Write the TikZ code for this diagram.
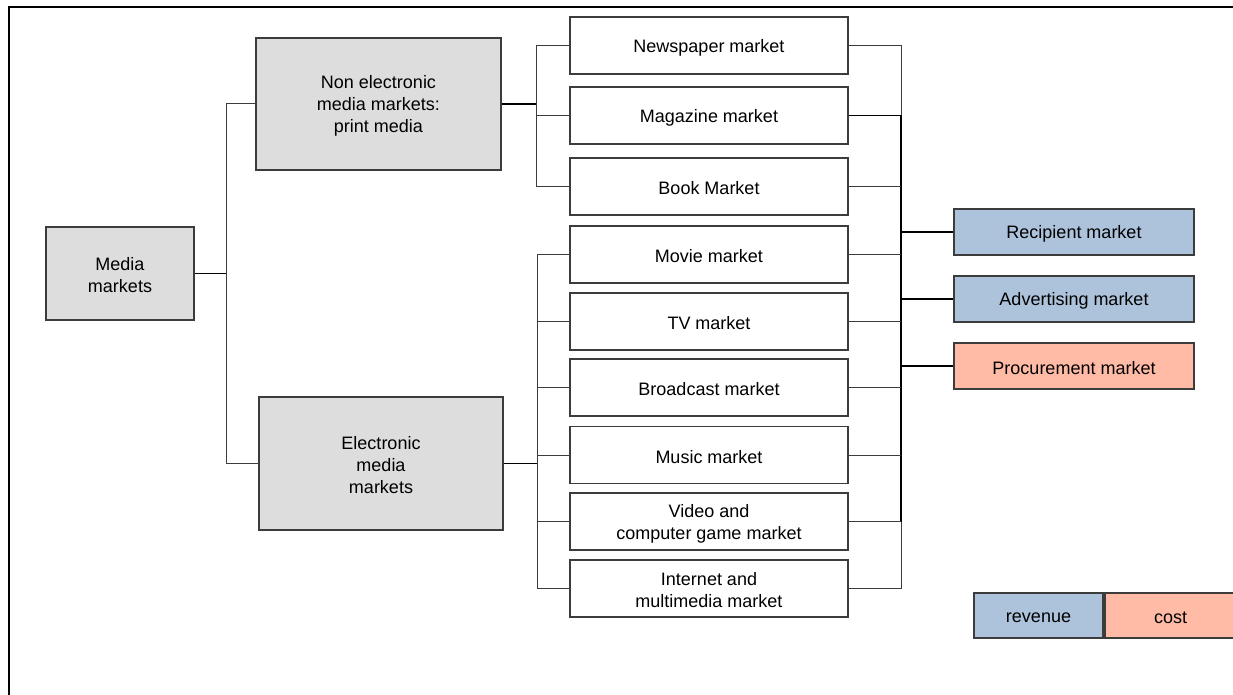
\documentclass[tikz,border=0pt]{standalone}
\usepackage{fontspec}
\setmainfont{Liberation Sans}
\definecolor{boxgrey}{RGB}{221,221,221}
\definecolor{revblue}{RGB}{173,194,219}
\definecolor{costred}{RGB}{255,187,165}
\definecolor{edge}{RGB}{60,60,60}
\begin{document}
\begin{tikzpicture}[x=1pt,y=-1pt,
  every node/.style={inner sep=0pt},
  txt/.style={label={[font=\fontsize{18}{22}\selectfont, align=center, inner sep=0pt, yshift=-2pt]center:{#1}}},
  basebox/.style={draw=edge, line width=1.2pt, rectangle},
  groupbox/.style={basebox, fill=boxgrey},
  marketbox/.style={basebox, fill=white, minimum width=278pt, minimum height=57pt},
  sidebox/.style={basebox, minimum width=240pt, minimum height=46pt},
  link/.style={draw=edge, line width=1pt},
  mainlink/.style={draw=black, line width=1.8pt}]
\useasboundingbox (0,0) rectangle (1233,695);
\fill[white] (0,0) rectangle (1233,695);
% outer frame
\draw[line width=2pt] (9,700) -- (9,7) -- (1240,7);

% tree levels
\node[groupbox, minimum width=148pt, minimum height=93pt, txt={Media\\markets}] (media) at (120,273.5) {};
\node[groupbox, minimum width=245pt, minimum height=132pt, txt={Non electronic\\media markets:\\print media}] (print) at (378.5,104) {};
\node[groupbox, minimum width=244pt, minimum height=133pt, txt={Electronic\\media\\markets}] (elec) at (381,463.5) {};

\node[marketbox, txt={Newspaper market}] (news)  at (709,45.5)  {};
\node[marketbox, txt={Magazine market}] (mag)   at (709,115.5) {};
\node[marketbox, txt={Book Market}] (book)  at (709,186.5) {};
\node[marketbox, txt={Movie market}] (movie) at (709,254.5) {};
\node[marketbox, txt={TV market}] (tv)    at (709,321.5) {};
\node[marketbox, txt={Broadcast market}] (bcast) at (709,387.5) {};
\node[marketbox, txt={Music market}] (music) at (709,455)   {};
\node[marketbox, txt={Video and\\computer game market}] (video) at (709,521.5) {};
\node[marketbox, txt={Internet and\\multimedia market}] (inet)  at (709,588.5) {};

\node[sidebox, fill=revblue, txt={Recipient market}] (recip) at (1074,232) {};
\node[sidebox, fill=revblue, txt={Advertising market}] (adv)   at (1074,299) {};
\node[sidebox, fill=costred, txt={Procurement market}] (proc)  at (1074,366) {};

% legend
\node[basebox, fill=revblue, minimum width=129pt, minimum height=45pt, txt={revenue}] (rev) at (1038.5,615.5) {};
\node[basebox, fill=costred, minimum width=131pt, minimum height=45pt, txt={cost}] (cost) at (1170.5,615.5) {};

% bus lines
\coordinate (lbus) at (226,0);
\coordinate (pbus) at (536,0);
\coordinate (ebus) at (537,0);
\coordinate (rbus) at (901,0);

% media markets -> groups
\draw[mainlink] (media.east) -- (lbus |- media.east);
\draw[link] (lbus |- print.west) -- (lbus |- elec.west);
\draw[link] (lbus |- print.west) -- (print.west);
\draw[link] (lbus |- elec.west) -- (elec.west);

% print media -> markets
\draw[mainlink] (print.east) -- (pbus |- print.east);
\draw[link] (pbus |- news.west) -- (pbus |- book.west);
\foreach \m in {news,mag,book}
  \draw[link] (pbus |- \m.west) -- (\m.west);

% electronic media -> markets
\draw[mainlink] (elec.east) -- (ebus |- elec.east);
\draw[link] (ebus |- movie.west) -- (ebus |- inet.west);
\foreach \m in {movie,tv,bcast,music,video,inet}
  \draw[link] (ebus |- \m.west) -- (\m.west);

% markets -> market sides
\draw[link] (rbus |- news.east) -- (rbus |- mag.east);
\draw[mainlink] (rbus |- mag.east) -- (rbus |- video.east);
\draw[link] (rbus |- video.east) -- (rbus |- inet.east);
\foreach \m in {news,book,movie,tv,bcast,music,video,inet}
  \draw[link] (\m.east) -- (rbus |- \m.east);
\draw[mainlink] (mag.east) -- (rbus |- mag.east);
\foreach \s in {recip,adv,proc}
  \draw[mainlink] (rbus |- \s.west) -- (\s.west);
\end{tikzpicture}
\end{document}
